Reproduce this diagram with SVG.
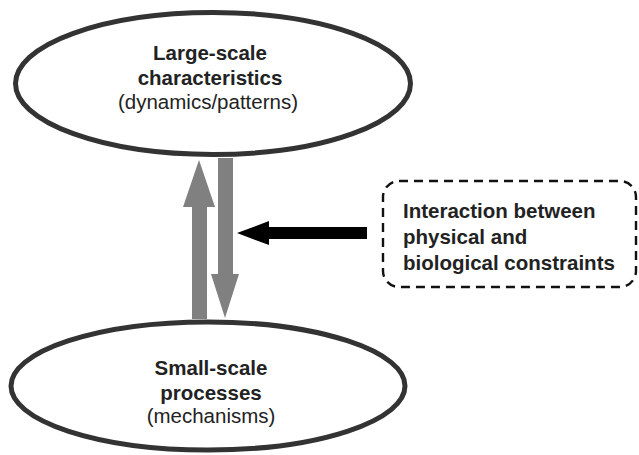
<svg xmlns="http://www.w3.org/2000/svg" width="639" height="455" viewBox="0 0 639 455">
<style>
.node{fill:#fff;stroke:#333;stroke-width:5}
text{font-family:"Liberation Sans",Arial,sans-serif;font-size:20.5px;fill:#222}
.b{font-weight:bold}
.c{text-anchor:middle}
.gray{fill:#808080}
</style>
<rect width="639" height="455" fill="#fff"/>
<g id="large-scale">
<ellipse class="node" cx="213" cy="83.5" rx="197.5" ry="71"/>
<text class="b c" x="210" y="60">Large-scale</text>
<text class="b c" x="210" y="85">characteristics</text>
<text class="c" x="208" y="109">(dynamics/patterns)</text>
</g>
<g id="small-scale">
<ellipse class="node" cx="208" cy="386" rx="197" ry="64"/>
<text class="b c" x="211" y="375">Small-scale</text>
<text class="b c" x="211" y="400">processes</text>
<text class="c" x="211" y="423">(mechanisms)</text>
</g>
<g id="constraints">
<rect x="383" y="181" width="253" height="106" rx="16" fill="#fff" stroke="#111" stroke-width="2.4" stroke-dasharray="9,6"/>
<text class="b" x="403" y="218">Interaction between</text>
<text class="b" x="403" y="244">physical and</text>
<text class="b" x="403" y="270">biological constraints</text>
</g>
<g id="connectors">
<polygon class="gray" points="192,319 192,207 183,207 199,160 215,207 207,207 207,319"/>
<polygon class="gray" points="218,158 233,158 233,274 239,274 225,318 211,274 218,274"/>
<polygon fill="#000" points="367,227 367,239 269,239 269,245 237,233 269,221 269,227"/>
</g>
</svg>
